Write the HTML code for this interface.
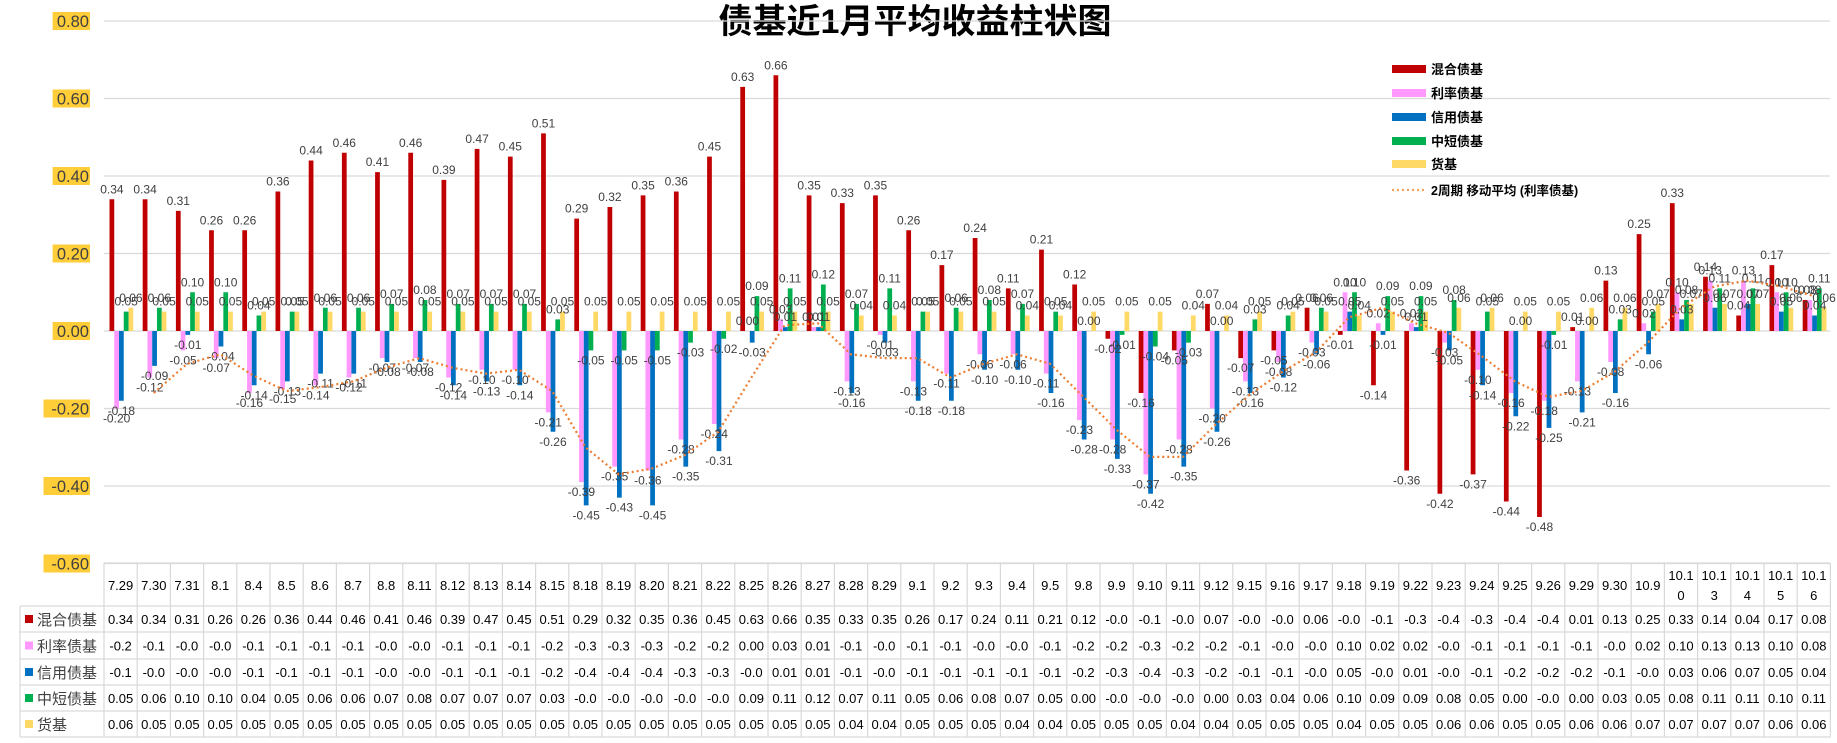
<!DOCTYPE html>
<html><head><meta charset="utf-8"><style>
html,body{margin:0;padding:0;background:#fff;}
svg{display:block;font-family:"Liberation Sans","Noto Sans CJK SC",sans-serif;}
</style></head><body>
<svg id="chart" width="1837" height="743" viewBox="0 0 1837 743" xmlns="http://www.w3.org/2000/svg">
<text x="915" y="33" text-anchor="middle" font-size="34" font-weight="bold" fill="#000" font-family="Liberation Sans,Noto Sans CJK SC,sans-serif">债基近1月平均收益柱状图</text>
<g id="grid"></g><g id="yaxis"></g><g id="bars"></g><g id="labels"></g><g id="ma"></g><g id="legend"></g><g id="table"></g>
</svg>
<script>
const categories=["7.29","7.30","7.31","8.1","8.4","8.5","8.6","8.7","8.8","8.11","8.12","8.13","8.14","8.15","8.18","8.19","8.20","8.21","8.22","8.25","8.26","8.27","8.28","8.29","9.1","9.2","9.3","9.4","9.5","9.8","9.9","9.10","9.11","9.12","9.15","9.16","9.17","9.18","9.19","9.22","9.23","9.24","9.25","9.26","9.29","9.30","10.9","10.10","10.13","10.14","10.15","10.16"];
const mixed=[0.34,0.34,0.31,0.26,0.26,0.36,0.44,0.46,0.41,0.46,0.39,0.47,0.45,0.51,0.29,0.32,0.35,0.36,0.45,0.63,0.66,0.35,0.33,0.35,0.26,0.17,0.24,0.11,0.21,0.12,-0.02,-0.16,-0.05,0.07,-0.07,-0.05,0.06,-0.01,-0.14,-0.36,-0.42,-0.37,-0.44,-0.48,0.01,0.13,0.25,0.33,0.14,0.04,0.17,0.08];
const rate=[-0.20,-0.12,-0.05,-0.07,-0.16,-0.15,-0.14,-0.12,-0.07,-0.07,-0.12,-0.10,-0.10,-0.21,-0.39,-0.35,-0.36,-0.28,-0.24,0.00,0.03,0.01,-0.13,-0.01,-0.13,-0.11,-0.06,-0.06,-0.11,-0.23,-0.28,-0.37,-0.28,-0.20,-0.13,-0.08,-0.03,0.10,0.02,0.02,-0.03,-0.10,-0.16,-0.18,-0.13,-0.08,0.02,0.10,0.13,0.13,0.10,0.08];
const credit=[-0.18,-0.09,-0.01,-0.04,-0.14,-0.13,-0.11,-0.11,-0.08,-0.08,-0.14,-0.13,-0.14,-0.26,-0.45,-0.43,-0.45,-0.35,-0.31,-0.03,0.01,0.01,-0.16,-0.03,-0.18,-0.18,-0.10,-0.10,-0.16,-0.28,-0.33,-0.42,-0.35,-0.26,-0.16,-0.12,-0.06,0.05,-0.01,0.01,-0.05,-0.14,-0.22,-0.25,-0.21,-0.16,-0.06,0.03,0.06,0.07,0.05,0.04];
const shortMid=[0.05,0.06,0.10,0.10,0.04,0.05,0.06,0.06,0.07,0.08,0.07,0.07,0.07,0.03,-0.05,-0.05,-0.05,-0.03,-0.02,0.09,0.11,0.12,0.07,0.11,0.05,0.06,0.08,0.07,0.05,0.00,-0.01,-0.04,-0.03,0.00,0.03,0.04,0.06,0.10,0.09,0.09,0.08,0.05,0.00,-0.01,0.00,0.03,0.05,0.08,0.11,0.11,0.10,0.11];
const money=[0.06,0.05,0.05,0.05,0.05,0.05,0.05,0.05,0.05,0.05,0.05,0.05,0.05,0.05,0.05,0.05,0.05,0.05,0.05,0.05,0.05,0.05,0.04,0.04,0.05,0.05,0.05,0.04,0.04,0.05,0.05,0.05,0.04,0.04,0.05,0.05,0.05,0.04,0.05,0.05,0.06,0.06,0.05,0.05,0.06,0.06,0.07,0.07,0.07,0.07,0.06,0.06];
const yTicks=[0.80,0.60,0.40,0.20,0.00,-0.20,-0.40,-0.60];
const seriesNames=["混合债基","利率债基","信用债基","中短债基","货基"];

const NS="http://www.w3.org/2000/svg";
const series=[mixed,rate,credit,shortMid,money];
const colors=["#C00000","#FF99FF","#0070C0","#00B050","#FFD966"];
const keys=["mixed","rate","credit","short-mid","money"];
const X0=104,CW=33.2,Y0=331,PX=387.5;
const y=v=>Y0-v*PX;
const xc=i=>X0+CW*i+CW/2;
function el(tag,attrs,parent,text){const e=document.createElementNS(NS,tag);for(const k in attrs)e.setAttribute(k,attrs[k]);if(text!==undefined)e.textContent=text;parent.appendChild(e);return e;}
const g=id=>document.getElementById(id);
yTicks.forEach(t=>{
  const gl=el('line',{x1:X0,x2:1830,y1:y(t),y2:y(t),stroke:'#D9D9D9','stroke-width':1.3},g('grid'));
  
  
  const s=t.toFixed(2);const w=s.length*9.1;
  const bg=el('rect',{x:89-w,y:y(t)-9,width:w+1,height:18,fill:'#FFCD38'},g('yaxis'));
  
  
  const tx=el('text',{x:89,y:y(t)+6,'text-anchor':'end','font-size':16.5,fill:'#404040'},g('yaxis'),s);
  
  
});
const BW=4.75,OFF=5.5;
series.forEach((arr,si)=>{
  arr.forEach((v,i)=>{
    const bx=X0+CW*i+OFF+si*BW;
    const top=Math.min(y(v),Y0),h=Math.abs(y(v)-Y0);
    const r=el('rect',{x:bx,y:top,width:BW,height:Math.max(h,0.01),fill:colors[si]},g('bars'));
    
    
    const ly=v>=0?y(v)-6:y(v)+14;
    const lb=el('text',{x:bx+BW/2,y:ly,'text-anchor':'middle','font-size':12,fill:'#404040'},g('labels'),v.toFixed(2));
    
    
  });
});
let pts=[];
for(let i=1;i<rate.length;i++){pts.push(xc(i).toFixed(1)+','+y((rate[i]+rate[i-1])/2).toFixed(1));}
const ma=el('polyline',{points:pts.join(' '),fill:'none',stroke:'#ED7D31','stroke-width':2.2,'stroke-dasharray':'2 3'},g('ma'));


const LY=[69,93,117,141,164];
seriesNames.forEach((n,i)=>{
  const r=el('rect',{x:1392,y:LY[i]-4,width:34,height:8,fill:colors[i]},g('legend'));
  
  
  const t=el('text',{x:1431,y:LY[i]+5,'font-size':13,'font-weight':'bold',fill:'#000'},g('legend'),n);
  
  
});
const ml=el('line',{x1:1392,x2:1426,y1:190,y2:190,stroke:'#F4A460','stroke-width':2.2,'stroke-dasharray':'2 3'},g('legend'));


const mt=el('text',{x:1431,y:195,'font-size':12.5,'font-weight':'bold',fill:'#000'},g('legend'),'2周期 移动平均 (利率债基)');


const T=g('table');const XR=X0+CW*categories.length;
const rowsY=[563,606,632,659,685,711,737];
const lc='#D9D9D9';
rowsY.forEach((ry,k)=>{const l=el('line',{x1:k===0?X0:20,x2:XR,y1:ry,y2:ry,stroke:lc,'stroke-width':1.2},T);});
for(let i=0;i<=categories.length;i++){const l=el('line',{x1:X0+CW*i,x2:X0+CW*i,y1:563,y2:737,stroke:lc,'stroke-width':1.2},T);}
const lv=el('line',{x1:20,x2:20,y1:606,y2:737,stroke:lc,'stroke-width':1.2},T);


categories.forEach((c,i)=>{
  if(c.length>4){
    const t1=el('text',{x:xc(i),y:580,'text-anchor':'middle','font-size':13,fill:'#000'},T,c.slice(0,4));
    
    
    const t2=el('text',{x:xc(i),y:600,'text-anchor':'middle','font-size':13,fill:'#000'},T,c.slice(4));
    
    
  } else {
    const t=el('text',{x:xc(i),y:590,'text-anchor':'middle','font-size':13,fill:'#000'},T,c);
    
    
  }
});
series.forEach((arr,si)=>{
  const cy=(rowsY[si+1]+rowsY[si+2])/2;
  const m=el('rect',{x:25,y:cy-4,width:8,height:8,fill:colors[si]},T);
  
  
  const n=el('text',{x:37,y:cy+6,'font-size':15,fill:'#404040'},T,seriesNames[si]);
  
  
  arr.forEach((v,i)=>{
    const s=v.toFixed(2).slice(0,4);
    const t=el('text',{x:xc(i),y:cy+5,'text-anchor':'middle','font-size':13,fill:'#000'},T,s);
    
    
  });
});
</script>
</body></html>
